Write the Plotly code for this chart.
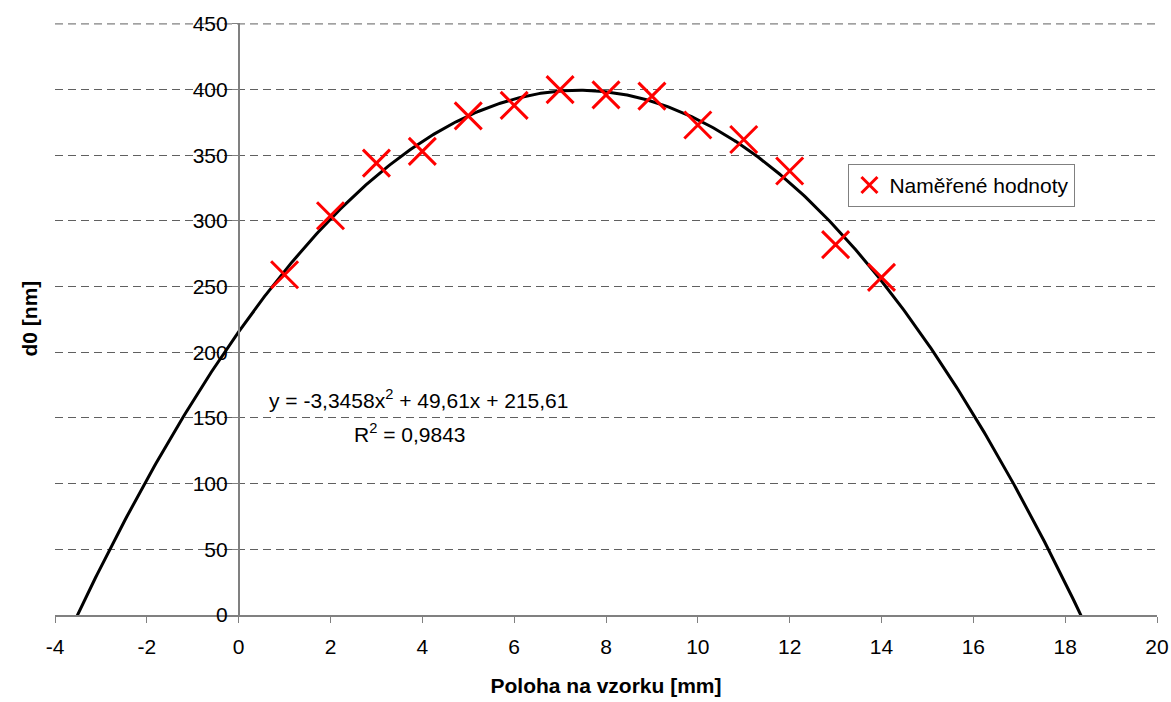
import numpy as np
import plotly.graph_objects as go

# Data
poloha = [1, 2, 3, 4, 5, 6, 7, 8, 9, 10, 11, 12, 13, 14]
d0 = [259, 304, 344, 353, 380, 388, 400, 396, 395, 373, 362, 338, 282, 257]
# trendline coefficients as shown in the equation label (a, b, c)
trend_coef = [-3.3458, 49.61, 215.61]
x_ticks = list(range(-4, 21, 2))
y_ticks = list(range(0, 451, 50))

font_name = "Liberation Sans, Arial, sans-serif"
fs = 21

xs = np.linspace(-4, 20, 600)
ys = np.polyval(trend_coef, xs)
mask = ys >= -20
xs, ys = xs[mask], ys[mask]

fig = go.Figure()
fig.add_trace(go.Scatter(
    x=xs, y=ys, mode="lines",
    line=dict(color="black", width=3),
    showlegend=False, hoverinfo="skip",
))
fig.add_trace(go.Scatter(
    x=poloha, y=d0, mode="markers", name="Naměřené hodnoty",
    marker=dict(symbol="x-thin", size=27, color="red",
                line=dict(color="red", width=3)),
))

fig.add_annotation(
    x=3.92, y=164.5, xref="x", yref="y", showarrow=False,
    text="y = -3,3458x<sup>2</sup> + 49,61x + 215,61",
    font=dict(family=font_name, size=fs, color="black"),
)
fig.add_annotation(
    x=3.73, y=138.6, xref="x", yref="y", showarrow=False,
    text="R<sup>2</sup> = 0,9843",
    font=dict(family=font_name, size=fs, color="black"),
)
fig.add_annotation(
    x=0, y=0.5, xref="paper", yref="paper", xshift=-40, showarrow=False,
    text="<b>d0 [nm]</b>", textangle=-90,
    font=dict(family=font_name, size=fs, color="black"),
)

# top gridline (at the last y tick), which plotly omits at the plot edge
fig.add_shape(
    type="line", xref="paper", yref="y", x0=0, x1=1,
    y0=y_ticks[-1], y1=y_ticks[-1], layer="below",
    line=dict(color="#606060", width=1, dash="8px,5px"),
)

fig.update_layout(
    width=1171, height=702,
    margin=dict(l=55, r=14, t=23, b=87, autoexpand=False),
    paper_bgcolor="white", plot_bgcolor="white",
    font=dict(family=font_name, size=fs, color="black"),
    legend=dict(
        x=0.72, y=0.762, xanchor="left", yanchor="top",
        bordercolor="#808080", borderwidth=1, bgcolor="white",
        font=dict(family=font_name, size=fs),
        itemsizing="trace", itemwidth=30,
    ),
    xaxis=dict(
        range=[-4, 20], tickvals=x_ticks, ticktext=[str(v) for v in x_ticks],
        showgrid=False, zeroline=False, automargin=False,
        showline=True, linecolor="#808080", linewidth=1.5,
        ticks="outside", ticklen=6, tickcolor="#808080",
        ticklabelstandoff=6,
        title=dict(text="<b>Poloha na vzorku [mm]</b>", standoff=21,
                   font=dict(family=font_name, size=fs)),
        anchor="y",
    ),
    yaxis=dict(
        range=[0, 450.7], tickvals=y_ticks, ticktext=[str(v) for v in y_ticks],
        showgrid=True, gridcolor="#606060", gridwidth=1, griddash="8px,5px",
        zeroline=False, automargin=False,
        showline=True, linecolor="#808080", linewidth=1.5,
        ticks="outside", ticklen=6, tickcolor="#808080",
        anchor="free", position=1/6,
    ),
)

fig.write_html("out.html")
